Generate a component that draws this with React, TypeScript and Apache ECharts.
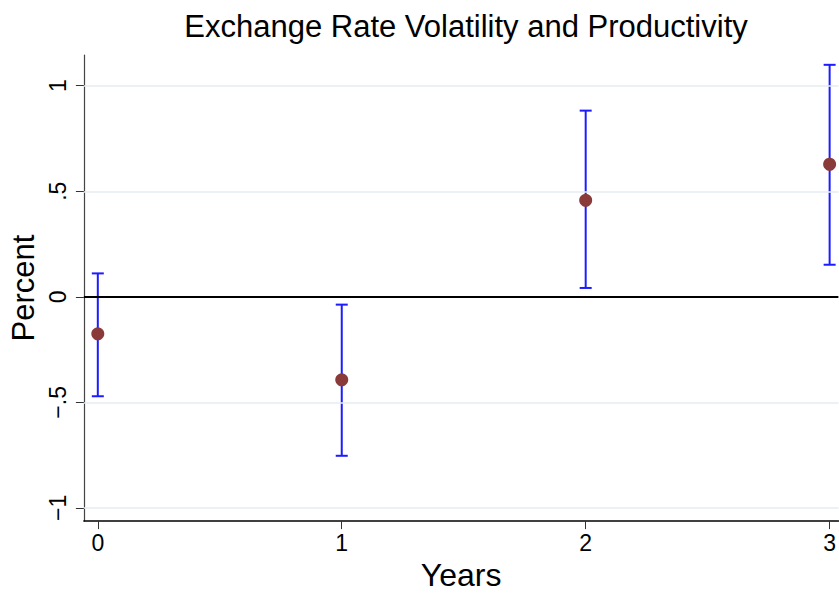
import React, { useEffect, useRef } from "react";
import * as echarts from "echarts";

const years = [0, 1, 2, 3];
const estimate = [-0.175, -0.393, 0.457, 0.628];
const lower = [-0.471, -0.753, 0.042, 0.152];
const upper = [0.111, -0.037, 0.882, 1.099];
const yTicks = [-1, -0.5, 0, 0.5, 1];
const xTicks = [0, 1, 2, 3];
const gridValues = [-1, -0.5, 0.5, 1];

const FONT = "Liberation Sans, Arial, sans-serif";

function fmtY(v: number): string {
  if (v === 0) return "0";
  const s = String(Math.abs(v)).replace("0.", ".");
  return (v < 0 ? "\u2212" : "") + s;
}

export default function App() {
  const ref = useRef<HTMLDivElement>(null);
  useEffect(() => {
    if (!ref.current) return;
    const chart = echarts.init(ref.current, undefined, { renderer: "svg" });
    chart.setOption({
      animation: false,
      backgroundColor: "#ffffff",
      title: {
        text: "Exchange Rate Volatility and Productivity",
        left: 461,
        top: 6,
        textAlign: "center",
        textStyle: { fontFamily: FONT, fontSize: 31, fontWeight: "normal", color: "#000" },
      },
      grid: { left: 82, right: 0, top: 55, bottom: 63, containLabel: false },
      xAxis: {
        type: "value",
        min: -0.057,
        max: 3.036,
        name: "Years",
        nameLocation: "middle",
        nameGap: 28,
        nameTextStyle: { fontFamily: FONT, fontSize: 32, color: "#000" },
        axisLine: { show: true, onZero: false, lineStyle: { color: "#000", width: 1.5 } },
        axisTick: { show: true, length: 8, customValues: xTicks, lineStyle: { color: "#333" } },
        axisLabel: {
          customValues: xTicks,
          fontFamily: FONT,
          fontSize: 23,
          color: "#000",
          margin: 10,
        },
        splitLine: { show: false },
      },
      yAxis: {
        type: "value",
        min: -1.0624,
        max: 1.1455,
        name: "Percent",
        nameLocation: "middle",
        nameGap: 43,
        nameRotate: 90,
        nameTextStyle: { fontFamily: FONT, fontSize: 31, color: "#000" },
        axisLine: { show: true, onZero: false, lineStyle: { color: "#444", width: 1.2 } },
        axisTick: { show: true, length: 8, customValues: yTicks, lineStyle: { color: "#333" } },
        axisLabel: {
          customValues: yTicks,
          rotate: 90,
          fontFamily: FONT,
          fontSize: 23,
          color: "#000",
          margin: 14,
          formatter: (v: number) => fmtY(v),
        },
        splitLine: { show: false },
      },
      series: [
        {
          type: "line",
          data: [],
          silent: true,
          z: 1,
          markLine: {
            silent: true,
            symbol: ["none", "none"],
            label: { show: false },
            lineStyle: { color: "#e4edf0", width: 1.5, type: "solid" },
            data: gridValues.map((v) => ({ yAxis: v })),
          },
        },
        {
          type: "line",
          data: [],
          silent: true,
          z: 2,
          markLine: {
            silent: true,
            symbol: ["none", "none"],
            label: { show: false },
            lineStyle: { color: "#000", width: 2, type: "solid" },
            data: [{ yAxis: 0 }],
          },
        },
        {
          type: "custom",
          z: 3,
          data: years.map((x, i) => [x, lower[i], upper[i]]),
          renderItem: (params: any, api: any) => {
            const x = api.value(0);
            const lo = api.coord([x, api.value(1)]);
            const hi = api.coord([x, api.value(2)]);
            const half = 6;
            const style = { stroke: "#1c1cff", lineWidth: 2 };
            return {
              type: "group",
              children: [
                { type: "line", shape: { x1: lo[0], y1: lo[1], x2: hi[0], y2: hi[1] }, style },
                { type: "line", shape: { x1: lo[0] - half, y1: lo[1], x2: lo[0] + half, y2: lo[1] }, style },
                { type: "line", shape: { x1: hi[0] - half, y1: hi[1], x2: hi[0] + half, y2: hi[1] }, style },
              ],
            };
          },
        },
        {
          type: "scatter",
          z: 4,
          symbol: "circle",
          symbolSize: 13,
          itemStyle: { color: "#8b3a3a", opacity: 1 },
          data: years.map((x, i) => [x, estimate[i]]),
        },
      ],
    });
    return () => chart.dispose();
  }, []);
  return <div ref={ref} style={{ width: 839, height: 596, position: "absolute", left: 0, top: 0 }} />;
}
